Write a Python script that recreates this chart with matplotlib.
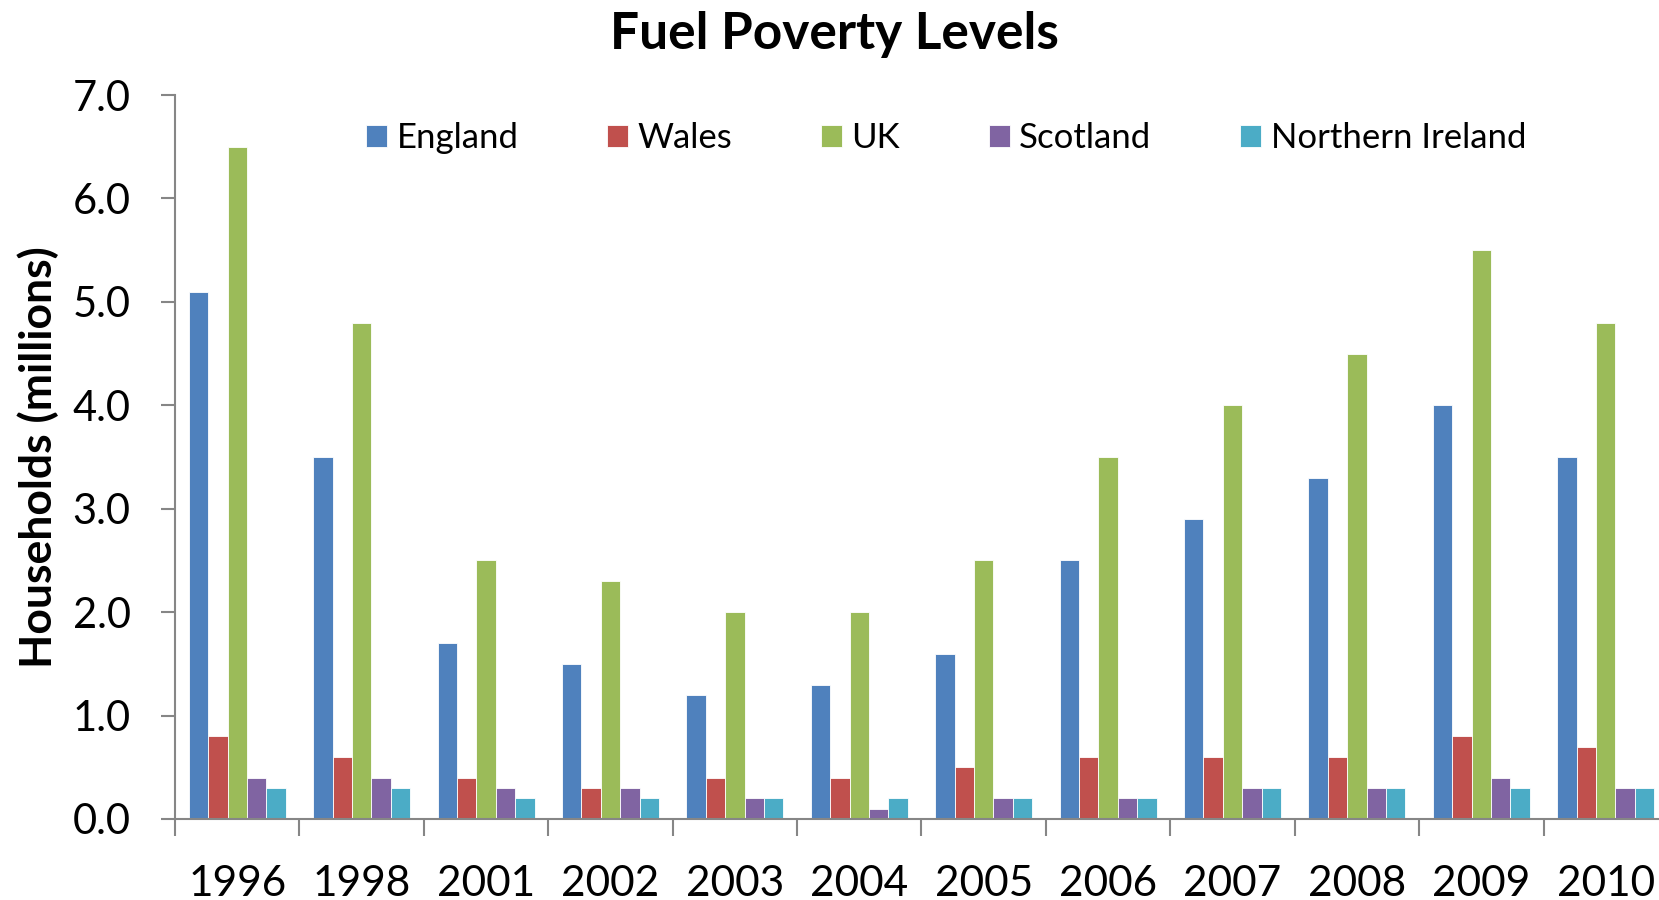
import matplotlib
matplotlib.use("Agg")
import matplotlib.pyplot as plt
import numpy as np

years = ["1996", "1998", "2001", "2002", "2003", "2004",
         "2005", "2006", "2007", "2008", "2009", "2010"]
series_names = ["England", "Wales", "UK", "Scotland", "Northern Ireland"]
england = [5.1, 3.5, 1.7, 1.5, 1.2, 1.3, 1.6, 2.5, 2.9, 3.3, 4.0, 3.5]
wales = [0.8, 0.6, 0.4, 0.3, 0.4, 0.4, 0.5, 0.6, 0.6, 0.6, 0.8, 0.7]
uk = [6.5, 4.8, 2.5, 2.3, 2.0, 2.0, 2.5, 3.5, 4.0, 4.5, 5.5, 4.8]
scotland = [0.4, 0.4, 0.3, 0.3, 0.2, 0.1, 0.2, 0.2, 0.3, 0.3, 0.4, 0.3]
n_ireland = [0.3, 0.3, 0.2, 0.2, 0.2, 0.2, 0.2, 0.2, 0.3, 0.3, 0.3, 0.3]
colors = ["#4F81BD", "#C0504D", "#9BBB59", "#8064A2", "#4BACC6"]

plt.rcParams["font.family"] = ["Lato", "DejaVu Sans"]

W, H = 1659, 900
fig = plt.figure(figsize=(W / 100, H / 100), dpi=100)
# axes runs a little past the right edge, like the cropped original
ax = fig.add_axes([175 / W, 81 / H, 1493 / W, 724 / H])

x = np.arange(len(years))
bw = 0.156
for k, (name, vals) in enumerate(zip(series_names, [england, wales, uk, scotland, n_ireland])):
    ax.bar(x + (k - 2) * bw, vals, width=bw, color=colors[k], label=name,
           edgecolor="white", linewidth=0.6)

ax.set_xlim(-0.5, len(years) - 0.5)
ax.set_ylim(0, 7)
ax.set_yticks(np.arange(0, 7.01, 1.0))
ax.set_yticklabels([f"{v:.1f}" for v in np.arange(0, 7.01, 1.0)])
ax.set_xticks(np.arange(-0.5, len(years)), [""] * (len(years) + 1))
ax.set_xticks(x, years, minor=True)

grey = "#868686"
for s in ("top", "right"):
    ax.spines[s].set_visible(False)
for s in ("left", "bottom"):
    ax.spines[s].set_color(grey)
    ax.spines[s].set_linewidth(1.5)
ax.tick_params(axis="y", direction="out", length=10, width=1.5, color=grey,
               pad=22, labelsize=30)
ax.tick_params(axis="x", which="major", direction="out", length=12, width=1.5, color=grey)
ax.tick_params(axis="x", which="minor", length=0, pad=33, labelsize=30.5)

ax.set_ylabel("Households (millions)", fontsize=32, fontweight="bold", labelpad=10)
fig.text(834 / W, 1 - 35 / H, "Fuel Poverty Levels", ha="center", va="center",
         fontsize=37, fontweight="bold")

fig.legend(loc="center left", bbox_to_anchor=(366 / W, 1 - 138 / H), ncol=5,
           frameon=False, fontsize=25, handlelength=0.6, handleheight=0.6,
           handletextpad=0.28, columnspacing=2.55, borderaxespad=0, borderpad=0)

fig.savefig("out.png", dpi=100)
